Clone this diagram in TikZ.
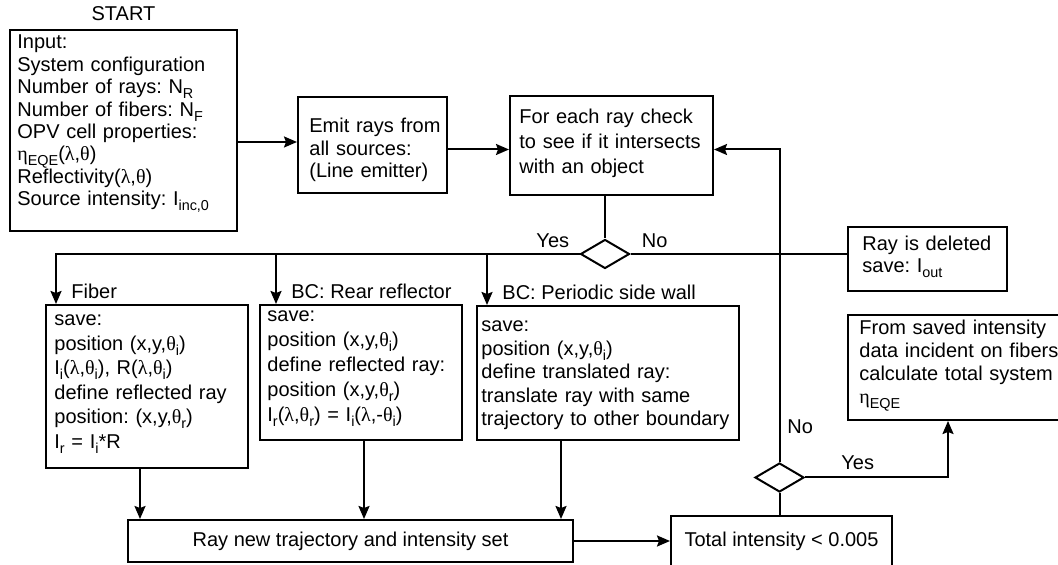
\documentclass[tikz,border=0pt]{standalone}
\usepackage{fontspec}
\setmainfont{Liberation Sans}
\newfontfamily\greekfont{Liberation Serif}
\usepackage{tikz}
\usetikzlibrary{arrows.meta, positioning, shapes.geometric}
\frenchspacing

% greek letters in a serif face, small lowered indices
\newcommand{\glam}{{\greekfont λ}}
\newcommand{\gth}{{\greekfont θ}}
\newcommand{\geta}{{\greekfont η}}
\newcommand{\idx}[1]{\raisebox{-2.5pt}[0pt][0pt]{\fontsize{7.2pt}{7pt}\selectfont #1}}
\newcommand{\lsp}[1]{\fontsize{10pt}{#1}\selectfont}

\begin{document}
\begin{tikzpicture}[
    x=0.5pt, y=-0.5pt,
    every node/.style={font=\lsp{12pt}},
    box/.style={draw=black, line width=1pt, inner sep=0pt},
    boxtext/.style={anchor=base west, align=left, text width=130pt, inner sep=0pt},
    decision/.style={diamond, draw=black, line width=1pt,
        minimum width=24.5pt, minimum height=14.5pt, inner sep=0pt},
    flow/.style={draw=black, line width=1pt,
        -{Stealth[length=6.5pt, width=5.5pt, inset=1pt]}},
    link/.style={draw=black, line width=1pt},
    tag/.style={inner sep=0pt}
]
\useasboundingbox (0,0) rectangle (1058,565);

% Top row
\node[box, minimum width=113.5pt, minimum height=100.5pt] (input) at (123.5,130.5) {};
\node[boxtext, font=\lsp{11.2pt}] (inputtxt) at ([shift={(4pt,-10pt)}]input.north west)
    {Input:\\
     System configuration\\
     Number of rays: N\idx{R}\\
     Number of fibers: N\idx{F}\\
     OPV cell properties:\\
     \geta\idx{EQE}(\glam,\gth)\\
     Reflectivity(\glam,\gth)\\
     Source intensity: I\idx{inc,0}};
\node[tag, above=4pt of input] (start) {START};

\node[box, minimum width=74.5pt, minimum height=48pt] (emit) at (372.5,145) {};
\node[boxtext, font=\lsp{11.25pt}] (emittxt) at ([shift={(6pt,-18.5pt)}]emit.north west)
    {Emit rays from\\ all sources:\\ (Line emitter)};

\node[box, minimum width=101.5pt, minimum height=49.5pt] (foreach) at (611.5,145.5) {};
\node[boxtext, font=\lsp{12.5pt}] (foreachtxt) at ([shift={(5pt,-14.5pt)}]foreach.north west)
    {For each ray check\\ to see if it intersects\\ with an object};

\node[decision] (hit) at (605,254) {};

\node[box, minimum width=79.5pt, minimum height=32pt] (deleted) at (927.5,259) {};
\node[boxtext, font=\lsp{11pt}] (deletedtxt) at ([shift={(7.5pt,-12.5pt)}]deleted.north west)
    {Ray is deleted\\ save: I\idx{out}};

% Boundary cases
\node[box, minimum width=101pt, minimum height=81.5pt] (fiber) at (147,386.5) {};
\node[boxtext, font=\lsp{12.25pt}] (fibertxt) at ([shift={(4.5pt,-11pt)}]fiber.north west)
    {save:\\
     position (x,y,\gth\idx{i})\\
     I\idx{i}(\glam,\gth\idx{i}), R(\glam,\gth\idx{i})\\
     define reflected ray\\
     position: (x,y,\gth\idx{r})\\
     I\idx{r} = I\idx{i}*R};

\node[box, minimum width=101pt, minimum height=67.5pt] (rear) at (361,372.5) {};
\node[boxtext, font=\lsp{12.5pt}] (reartxt) at ([shift={(4pt,-9pt)}]rear.north west)
    {save:\\
     position (x,y,\gth\idx{i})\\
     define reflected ray:\\
     position (x,y,\gth\idx{r})\\
     I\idx{r}(\glam,\gth\idx{r}) = I\idx{i}(\glam,-\gth\idx{i})};

\node[box, minimum width=131pt, minimum height=67pt] (periodic) at (608,373) {};
\node[boxtext, font=\lsp{11.75pt}] (periodictxt) at ([shift={(2.5pt,-13.5pt)}]periodic.north west)
    {save:\\
     position (x,y,\gth\idx{i})\\
     define translated ray:\\
     translate ray with same\\
     trajectory to other boundary};

\node[tag, anchor=base west] (fiberlbl) at ([shift={(13pt,2.5pt)}]fiber.north west) {Fiber};
\node[tag, anchor=base west] (rearlbl) at ([shift={(16pt,2.5pt)}]rear.north west) {BC: Rear reflector};
\node[tag, anchor=base west] (periodiclbl) at ([shift={(13pt,2.5pt)}]periodic.north west) {BC: Periodic side wall};

% Bottom row and result
\node[box, minimum width=222.5pt, minimum height=21pt] (raynew) at (350.5,541)
    {Ray new trajectory and intensity set};
\node[box, minimum width=110.5pt, minimum height=25.5pt] (total) at (781.5,541.5)
    {Total intensity < 0.005};
\node[decision] (done) at (779.5,477.5) {};

\node[box, minimum width=110pt, minimum height=52.5pt] (saved) at (958,367.5) {};
\node[boxtext, font=\lsp{11.5pt}] (savedtxt) at ([shift={(6pt,-10.5pt)}]saved.north west)
    {From saved intensity\\ data incident on fibers\\ calculate total system\\ \geta\idx{EQE}};

% Decision labels
\node[tag, anchor=base east] (hityes) at ([shift={(-5pt,3pt)}]hit.west) {Yes};
\node[tag, anchor=base west] (hitno) at ([shift={(5.5pt,3pt)}]hit.east) {No};
\node[tag, anchor=base west] (doneno) at ([shift={(3.75pt,14pt)}]done.north) {No};
\node[tag, anchor=base west] (doneyes) at ([shift={(18pt,3.75pt)}]done.east) {Yes};

% Connectors
\coordinate (emitin) at ([yshift=1.5pt]emit.west);
\coordinate (loopin) at ([yshift=-2pt]foreach.east);
\coordinate (fiberin) at ([xshift=5.5pt]fiber.north west);
\coordinate (rearin) at ([xshift=8.5pt]rear.north west);
\coordinate (periodicin) at ([xshift=5.5pt]periodic.north west);
\coordinate (fiberout) at ([xshift=6.5pt]raynew.north west);
\coordinate (rearout) at ([xshift=1.5pt]rear.south);
\coordinate (periodicout) at ([xshift=-6.5pt]raynew.north east);
\coordinate (savedin) at ([xshift=50.5pt]saved.south west);

\draw[flow] (input.east |- emitin) -- (emitin);
\draw[flow] (emit.east |- loopin) -- (foreach.west |- loopin);
\draw[link] (hit.north |- foreach.south) -- (hit.north);
\draw[flow] (hit.west) -| (fiberin);
\draw[flow] (rearin |- hit.west) -- (rearin);
\draw[flow] (periodicin |- hit.west) -- (periodicin);
\draw[link] (hit.east) -- (hit.east -| deleted.west);

\draw[flow] (fiberout |- fiber.south) -- (fiberout);
\draw[flow] (rearout) -- (rearout |- raynew.north);
\draw[flow] (periodicout |- periodic.south) -- (periodicout);
\draw[flow] (raynew.east) -- (raynew.east -| total.west);

\draw[link] (done.south) -- (done.south |- total.north);
\draw[flow] (done.north) |- (loopin);
\draw[flow] (done.east) -| (savedin);

\end{tikzpicture}
\end{document}
